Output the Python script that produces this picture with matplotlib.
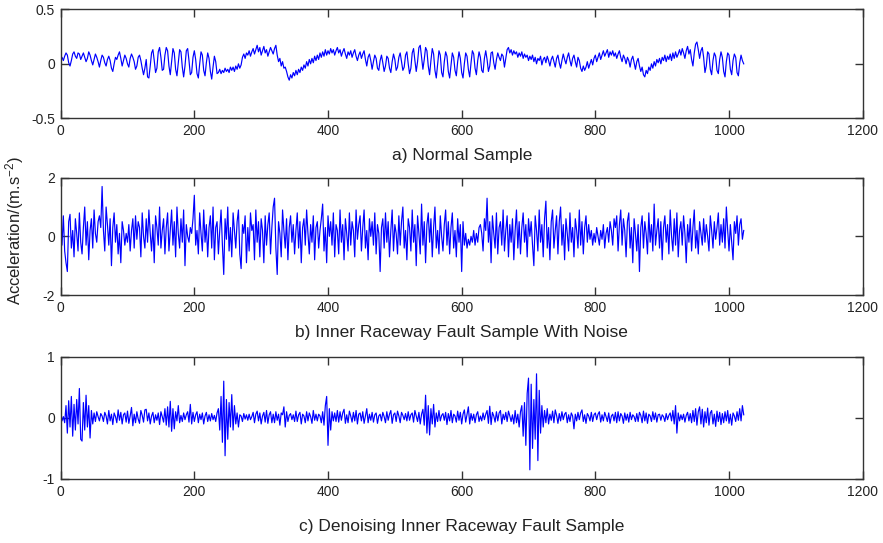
import numpy as np
import matplotlib
matplotlib.use('Agg')
import matplotlib.pyplot as plt

plt.rcParams['font.family'] = ['Liberation Sans', 'DejaVu Sans']
plt.rcParams['mathtext.fontset'] = 'custom'
plt.rcParams['mathtext.rm'] = 'Liberation Sans'
plt.rcParams['mathtext.it'] = 'Liberation Sans:italic'
plt.rcParams['axes.unicode_minus'] = False

# one value every 2 samples (1024 samples per record)
SAMPLE_STEP = 2

normal = [
    0.04, 0.06, 0.03, 0.07, 0.10, 0.08, 0.01, -0.02, 0.03, 0.09, 0.11, 0.07, 0.05, 0.10, 0.09, 0.04,
    0.07, 0.10, 0.06, 0.02, 0.05, 0.11, 0.08, 0.03, -0.01, 0.04, 0.09, 0.06, 0.02, -0.03, 0.03, 0.08,
    0.06, 0.01, -0.02, 0.04, 0.07, 0.03, -0.04, -0.07, 0.00, 0.06, 0.04, 0.08, 0.11, 0.05, -0.02, 0.03,
    0.08, 0.05, 0.00, -0.03, 0.05, 0.09, 0.06, 0.02, -0.05, -0.02, 0.06, 0.08, 0.03, -0.04, -0.10, -0.04,
    0.04, -0.12, -0.13, -0.02, 0.10, 0.13, 0.03, -0.08, -0.04, 0.11, 0.15, 0.06, -0.06, -0.05, 0.08, 0.15,
    0.12, -0.02, -0.10, 0.02, 0.14, 0.10, -0.05, -0.11, 0.01, 0.13, 0.11, -0.03, -0.12, -0.02, 0.12, 0.14,
    0.03, -0.10, -0.08, 0.06, 0.12, 0.04, -0.09, -0.13, 0.00, 0.11, 0.08, -0.06, -0.11, 0.01, 0.10, 0.05,
    -0.07, -0.14, -0.03, 0.07, 0.02, -0.09, -0.08, -0.05, -0.09, -0.06, -0.08, -0.04, -0.07, -0.05, -0.08, -0.03,
    -0.06, -0.03, -0.07, -0.02, -0.05, 0.00, -0.04, -0.01, 0.06, 0.09, 0.05, 0.10, 0.08, 0.12, 0.07, 0.11,
    0.14, 0.09, 0.13, 0.17, 0.11, 0.15, 0.08, 0.12, 0.16, 0.10, 0.13, 0.07, 0.11, 0.15, 0.12, 0.09,
    0.14, 0.17, 0.08, 0.02, 0.05, -0.02, 0.02, -0.04, -0.03, -0.07, -0.12, -0.15, -0.10, -0.13, -0.08, -0.11,
    -0.06, -0.10, -0.05, -0.08, -0.03, -0.06, -0.01, -0.04, 0.02, -0.02, 0.04, 0.00, 0.05, 0.01, 0.07, 0.03,
    0.08, 0.04, 0.10, 0.06, 0.11, 0.07, 0.13, 0.08, 0.12, 0.09, 0.14, 0.10, 0.13, 0.08, 0.12, 0.15,
    0.10, 0.13, 0.07, 0.11, 0.14, 0.09, 0.05, 0.11, 0.08, 0.12, 0.06, 0.10, 0.13, 0.07, 0.03, 0.08,
    0.11, 0.05, 0.09, 0.12, 0.04, -0.02, 0.06, 0.09, 0.03, -0.05, 0.02, 0.08, 0.05, -0.04, -0.06, 0.03,
    0.08, 0.01, -0.07, -0.02, 0.07, 0.05, -0.04, -0.08, 0.02, 0.09, 0.04, -0.06, -0.03, 0.06, 0.10, 0.02,
    -0.06, -0.03, 0.08, 0.11, 0.00, -0.09, -0.04, 0.10, 0.14, 0.03, -0.07, 0.02, 0.15, 0.17, 0.06, -0.05,
    0.04, 0.15, 0.12, -0.02, -0.10, 0.03, 0.14, 0.09, -0.06, -0.13, 0.00, 0.12, 0.08, -0.08, -0.12, 0.02,
    0.11, 0.07, -0.07, -0.13, -0.01, 0.10, 0.06, -0.06, -0.11, 0.02, 0.11, 0.05, -0.08, -0.13, 0.00, 0.10,
    0.07, -0.05, -0.12, 0.01, 0.12, 0.09, -0.04, -0.10, 0.03, 0.11, 0.06, -0.06, -0.08, 0.05, 0.12, 0.04,
    -0.07, -0.02, 0.10, 0.11, 0.01, -0.05, 0.04, 0.10, 0.06, 0.03, 0.09, 0.07, -0.03, 0.05, 0.13, 0.15,
    0.10, 0.13, 0.08, 0.12, 0.09, 0.11, 0.06, 0.10, 0.07, 0.11, 0.05, 0.09, 0.06, 0.08, 0.03, 0.07,
    0.04, 0.08, 0.02, 0.06, 0.00, 0.05, 0.03, 0.07, -0.01, 0.04, 0.06, 0.01, 0.07, 0.03, -0.02, 0.04,
    0.07, 0.02, -0.03, 0.05, 0.08, 0.01, -0.04, 0.03, 0.09, 0.04, 0.00, 0.06, 0.10, 0.03, -0.02, 0.05,
    0.08, 0.02, -0.03, 0.06, 0.03, -0.04, -0.07, -0.02, -0.06, -0.03, 0.02, -0.04, 0.00, 0.04, -0.01, 0.05,
    0.08, 0.02, 0.06, 0.10, 0.04, 0.08, 0.12, 0.07, 0.10, 0.13, 0.06, 0.11, 0.08, 0.12, 0.07, 0.10,
    0.05, 0.09, 0.12, 0.06, 0.02, 0.08, 0.05, 0.00, 0.06, 0.03, -0.03, 0.04, 0.07, 0.01, -0.05, 0.02,
    0.05, -0.02, -0.07, -0.03, -0.10, -0.12, -0.06, -0.09, -0.03, -0.06, 0.00, -0.04, 0.02, -0.02, 0.04, 0.01,
    0.05, 0.00, 0.06, 0.03, 0.08, 0.02, 0.07, 0.04, 0.09, 0.03, 0.10, 0.05, 0.11, 0.06, 0.09, 0.13,
    0.08, 0.14, 0.10, 0.05, 0.12, 0.16, 0.09, 0.13, 0.04, -0.02, 0.10, 0.18, 0.20, 0.13, 0.05, 0.12,
    0.15, 0.06, -0.08, -0.02, 0.11, 0.09, -0.05, -0.10, 0.03, 0.10, 0.07, -0.06, -0.09, 0.04, 0.11, 0.06,
    -0.07, -0.12, 0.02, 0.10, 0.08, -0.05, -0.10, 0.03, 0.09, 0.06, -0.08, -0.11, 0.01, 0.08, 0.03, 0.00,
]

noisy_fault = [
    0.40, -0.30, 0.70, -0.50, -0.90, -1.20, 0.50, 0.75, -0.40, 0.20, -0.70, 0.60, 0.10, -0.50, 0.80, -0.20,
    -0.60, 0.30, 1.00, -0.30, 0.50, -0.80, 0.20, 0.60, -0.40, 0.90, 0.10, -0.20, 0.50, 0.70, 0.30, 1.70,
    0.20, -0.50, 1.00, 0.40, -0.30, 0.60, -1.00, 0.30, 0.80, -0.20, 0.40, -0.60, 0.10, -0.90, 0.50, 0.20,
    -0.30, 0.10, -0.20, 0.40, -0.50, 0.20, 0.60, -0.40, 0.70, -0.10, 0.50, 0.30, -0.70, 0.80, 0.00, -0.40,
    0.60, -0.20, 0.90, 0.10, -0.50, 0.40, -0.90, 0.70, 0.30, -0.30, 1.00, -0.40, 0.20, 0.60, -0.60, 0.30,
    0.80, -0.50, 0.20, 0.90, -0.30, 0.50, -0.70, 1.00, 0.10, -0.40, 0.60, -0.20, 0.90, -1.00, 0.40, 0.00,
    -0.20, 0.30, 0.10, 0.60, 1.40, -0.30, 0.20, -0.60, 0.80, 0.10, -0.50, 0.90, -0.20, 0.40, -0.70, 0.30,
    0.70, -0.40, 1.00, -0.80, 0.30, 0.50, -0.60, 0.20, 0.90, -0.30, -1.30, 0.60, -0.10, 1.00, -0.50, 0.30,
    -0.70, 0.80, 0.20, -0.40, 0.50, 0.90, -0.60, -1.10, 0.40, 0.10, 0.70, -0.90, 0.30, -0.50, 0.80, 0.20,
    0.40, -0.80, 0.90, -0.20, 0.50, -0.70, 0.60, 0.20, -0.90, 0.70, -0.30, 0.40, 0.80, -0.60, 0.30, 1.00,
    1.30, -0.40, -1.30, 0.50, 0.10, -0.70, 0.90, 0.20, -0.40, 0.60, -0.80, 0.30, 0.70, -0.20, 0.40, -0.60,
    0.20, 0.80, -0.40, 0.50, -0.90, 0.30, 0.60, -0.30, 0.90, 0.10, -0.60, 0.40, -0.20, 0.70, -0.80, 0.30,
    0.50, -0.40, 0.20, 0.60, 1.10, -0.50, 0.30, -0.90, 0.70, 0.00, 0.50, -0.30, 0.80, -0.70, 0.40, 0.20,
    -0.60, 0.90, -0.20, 0.40, -0.80, 0.60, 0.10, -0.50, 0.80, -0.30, 0.50, 0.20, -0.70, 0.90, -0.10, 0.40,
    0.70, -0.50, 0.30, 0.90, -0.40, 0.20, -0.80, 0.60, 0.00, 0.50, -0.30, 0.80, -0.60, 0.40, 0.10, -1.20,
    0.30, 0.60, -0.40, 0.80, -0.20, 0.50, -0.70, 0.20, 0.90, -0.50, 0.40, 0.10, -0.60, 0.70, -0.30, 0.50,
    1.00, -0.40, 0.20, -0.80, 0.60, 0.30, -0.50, 0.90, -0.20, 0.40, -1.00, 0.70, 0.10, -0.60, 1.10, -0.30,
    0.50, -0.90, 0.40, 0.80, -0.20, 0.60, -0.70, 0.30, 1.00, -0.40, 0.20, -0.60, 0.70, 0.00, -0.50, 0.40,
    0.90, -0.30, 0.50, -0.60, 0.30, 0.80, -0.40, 0.20, -0.70, 0.60, -0.20, 0.40, -1.20, 0.50, -0.30, 0.10,
    -0.40, -0.10, -0.30, 0.00, -0.20, 0.20, -0.30, 0.10, -0.20, 0.30, 0.40, 0.10, -0.50, 0.60, 0.20, 1.30,
    -0.20, 0.50, -0.90, 0.70, 0.10, -0.40, 0.80, -0.60, 0.30, 0.50, -0.30, 0.90, -0.50, 0.20, 0.70, -0.70,
    0.40, -0.20, 0.60, -0.80, 0.20, 0.90, -0.40, 0.50, -0.60, 0.30, 0.80, -0.20, 0.40, -0.70, 0.60, 0.00,
    0.50, -0.30, -1.00, 0.70, 0.20, -0.50, 0.90, -0.20, 0.40, -0.70, 0.60, 1.20, -0.40, 0.30, -0.80, 0.50,
    0.90, -0.40, 0.20, 0.70, -0.60, 0.50, 1.00, -0.30, 0.40, -0.80, 0.60, 0.10, -0.50, 0.80, -0.20, 0.30,
    -0.70, 0.60, 0.20, -0.40, 0.90, -0.30, 0.50, -0.60, 0.30, 0.70, -0.20, 0.40, -0.10, 0.20, -0.30, 0.10,
    -0.20, 0.30, 0.00, -0.30, 0.20, -0.10, 0.40, -0.40, 0.10, 0.30, -0.20, 0.50, 0.20, -0.30, 0.60, 0.30,
    0.70, -0.50, 0.40, 0.90, -0.30, 0.60, 0.20, -0.70, 0.50, 0.80, -0.40, 0.30, -0.90, 0.60, 0.10, -0.50,
    0.40, -1.20, 0.30, 0.70, -0.40, 0.50, 0.10, -0.60, 0.80, -0.20, 0.40, -0.50, 1.10, -0.30, 0.20, 0.60,
    -0.40, 0.50, -0.80, 0.30, 0.70, -0.20, 0.40, -0.60, 0.90, 0.00, -0.50, 0.60, -0.30, 0.80, -0.70, 0.20,
    0.50, -0.30, 0.70, 0.10, -0.90, 0.40, -0.20, 0.60, -0.50, 0.30, 0.90, -0.40, 0.20, -0.60, 0.50, 0.10,
    -0.30, 0.60, -0.20, 0.40, 0.00, -0.50, 0.70, 0.20, -0.40, 0.50, -0.10, 0.30, 0.80, -0.30, 0.40, -0.20,
    0.60, -0.40, 1.00, 0.20, -0.50, 0.40, -0.20, -0.80, 0.50, 0.10, 0.70, -0.30, 0.40, 0.60, -0.10, 0.20,
]

denoised_fault = [
    0.05, -0.05, 0.02, -0.08, 0.20, -0.25, 0.28, -0.15, 0.35, -0.30, 0.22, -0.20, 0.30, -0.10, 0.48, -0.35,
    -0.38, 0.25, -0.20, 0.37, -0.15, 0.20, -0.33, 0.12, -0.10, 0.08, -0.06, 0.10, 0.02, -0.05, 0.07, 0.03,
    -0.06, 0.09, 0.03, -0.10, 0.12, -0.05, 0.06, -0.11, 0.08, 0.02, -0.08, 0.13, -0.04, 0.09, -0.10, 0.05,
    0.08, -0.07, 0.11, -0.09, 0.03, 0.17, -0.13, 0.06, -0.08, 0.10, -0.02, -0.09, 0.12, 0.04, -0.07, 0.13,
    0.14, -0.05, 0.08, -0.10, 0.03, 0.09, -0.08, 0.05, -0.04, 0.08, -0.11, 0.10, 0.02, -0.07, 0.15, -0.12,
    0.18, -0.15, 0.27, -0.22, 0.15, -0.18, 0.10, -0.05, 0.20, -0.08, 0.04, -0.06, 0.08, -0.03, 0.05, 0.10,
    -0.07, 0.22, -0.10, 0.09, -0.06, 0.05, 0.10, -0.08, 0.06, -0.03, 0.08, -0.10, 0.03, 0.09, -0.06, 0.05,
    -0.05, 0.07, -0.03, 0.04, -0.06, 0.08, 0.15, -0.20, 0.35, -0.40, 0.60, -0.62, 0.30, -0.35, 0.25, -0.15,
    0.38, -0.20, 0.20, -0.10, 0.08, -0.15, 0.05, 0.03, -0.06, 0.07, -0.02, 0.05, -0.04, 0.06, -0.03, 0.02,
    0.09, -0.08, 0.06, 0.11, -0.05, 0.08, -0.10, 0.03, 0.09, -0.07, 0.12, -0.09, 0.05, 0.10, -0.08, 0.06,
    -0.08, 0.10, -0.04, 0.06, -0.12, 0.08, 0.05, 0.18, -0.15, 0.10, -0.06, 0.04, 0.07, -0.03, 0.05, -0.06,
    0.11, -0.06, 0.05, 0.09, -0.10, 0.06, 0.03, -0.08, 0.10, -0.05, 0.08, 0.02, -0.09, 0.12, -0.04, 0.06,
    -0.05, 0.06, 0.03, -0.08, 0.10, -0.12, 0.20, 0.35, -0.45, 0.15, -0.20, 0.10, -0.05, 0.08, -0.06, 0.12,
    -0.07, 0.10, -0.04, 0.08, 0.14, -0.09, 0.05, -0.08, 0.11, 0.03, -0.07, 0.09, -0.05, 0.12, -0.10, 0.06,
    0.08, -0.05, 0.10, -0.09, 0.03, 0.15, -0.08, 0.06, -0.04, 0.09, -0.07, 0.05, 0.08, -0.09, 0.03, 0.06,
    -0.05, 0.09, 0.02, -0.08, 0.10, -0.04, 0.06, 0.12, -0.09, 0.05, 0.08, -0.06, 0.11, 0.03, -0.08, 0.09,
    0.04, -0.03, 0.07, -0.05, 0.10, -0.04, 0.05, 0.08, -0.07, 0.12, 0.03, -0.06, 0.09, -0.10, 0.06, 0.14,
    -0.12, 0.37, -0.25, 0.20, -0.28, 0.15, -0.10, 0.22, -0.15, 0.08, -0.06, 0.12, -0.05, 0.04, 0.07, -0.04,
    0.09, -0.11, 0.07, -0.05, 0.12, -0.08, 0.06, 0.03, -0.07, 0.11, -0.04, 0.09, -0.10, 0.06, 0.13, -0.07,
    0.05, 0.18, -0.10, 0.07, -0.04, 0.06, -0.08, 0.05, 0.10, -0.06, 0.03, -0.05, 0.08, -0.03, 0.06, 0.12,
    -0.09, 0.19, -0.11, 0.09, 0.03, -0.07, 0.10, -0.05, 0.08, 0.12, -0.10, 0.06, -0.03, 0.09, -0.06, 0.11,
    0.03, -0.06, 0.05, -0.10, 0.12, -0.08, 0.06, -0.15, 0.10, 0.20, -0.30, 0.25, -0.45, 0.40, 0.65, -0.85,
    0.55, -0.50, 0.30, -0.35, 0.72, -0.70, 0.45, -0.25, 0.20, -0.15, 0.12, -0.08, 0.15, -0.10, 0.06, -0.04,
    0.11, -0.08, 0.13, 0.04, -0.09, 0.07, -0.05, 0.10, -0.03, 0.06, 0.09, -0.08, 0.05, -0.06, 0.08, 0.03,
    -0.18, 0.06, -0.05, 0.09, -0.03, 0.08, 0.13, -0.06, 0.05, -0.09, 0.07, 0.03, -0.05, 0.09, -0.06, 0.05,
    0.08, -0.03, 0.06, 0.10, -0.07, 0.05, -0.05, 0.09, 0.02, -0.06, 0.08, -0.09, 0.03, 0.06, -0.05, 0.09,
    -0.08, 0.10, -0.05, 0.07, 0.03, -0.09, 0.08, -0.04, 0.06, -0.07, 0.09, -0.03, 0.05, 0.02, -0.06, 0.07,
    -0.06, 0.09, 0.04, -0.08, 0.11, -0.05, 0.08, -0.09, 0.06, 0.03, -0.06, 0.10, -0.03, 0.08, -0.07, 0.05,
    0.06, -0.04, 0.05, 0.02, -0.06, 0.07, -0.03, 0.04, 0.08, -0.05, 0.12, -0.10, 0.20, -0.25, 0.08, -0.05,
    0.05, -0.03, 0.06, -0.07, 0.04, 0.09, -0.05, 0.07, -0.08, 0.12, -0.06, 0.15, -0.12, 0.10, 0.18, -0.10,
    0.14, -0.15, 0.10, -0.08, 0.16, -0.12, 0.08, 0.12, -0.10, 0.06, -0.14, 0.11, -0.06, 0.09, -0.11, 0.07,
    -0.08, 0.10, -0.05, 0.12, -0.09, 0.06, -0.12, 0.08, 0.03, -0.06, 0.10, -0.04, 0.15, -0.05, 0.20, 0.05,
]

titles = ['a) Normal Sample',
          'b) Inner Raceway Fault Sample With Noise',
          'c) Denoising Inner Raceway Fault Sample']
y_ticks = [[-0.5, 0, 0.5], [-2, 0, 2], [-1, 0, 1]]
y_tick_labels = [['-0.5', '0', '0.5'], ['-2', '0', '2'], ['-1', '0', '1']]
x_ticks = [0, 200, 400, 600, 800, 1000, 1200]
x_tick_labels = ['0', '200', '400', '600', '800', '1000', '1200']
y_label = 'Acceleration/(m.s$^{-2}$)'

series = [normal, noisy_fault, denoised_fault]

fig = plt.figure(figsize=(8.83, 5.43), dpi=100)
# axes boxes [left, bottom, width, height], matched on the reference
boxes = [[0.0687, 0.7821, 0.9083, 0.2007],
         [0.0687, 0.4567, 0.9083, 0.2161],
         [0.0687, 0.1179, 0.9083, 0.2252]]
title_y = [0.713, 0.388, 0.030]

for k in range(3):
    ax = fig.add_axes(boxes[k])
    vals = np.array(series[k])
    x = np.arange(len(vals)) * SAMPLE_STEP
    ax.plot(x, vals, color='#0000ff', linewidth=0.85)
    ax.set_xlim(0, 1200)
    ax.set_ylim(y_ticks[k][0], y_ticks[k][-1])
    ax.set_xticks(x_ticks)
    ax.set_xticklabels(x_tick_labels)
    ax.set_yticks(y_ticks[k])
    ax.set_yticklabels(y_tick_labels[k])
    ax.tick_params(direction='in', length=6, width=1, colors='#333333',
                   labelcolor='#222222', labelsize=10, top=True, right=True,
                   pad=4)
    for s in ax.spines.values():
        s.set_color('#333333')
        s.set_linewidth(1)
    fig.text(0.523, title_y[k], titles[k], ha='center', va='center',
             fontsize=12.5, color='#222222')

fig.text(0.017, 0.575, y_label, rotation=90, ha='center', va='center',
         fontsize=12, color='#222222')

plt.savefig('out.png', dpi=100)
